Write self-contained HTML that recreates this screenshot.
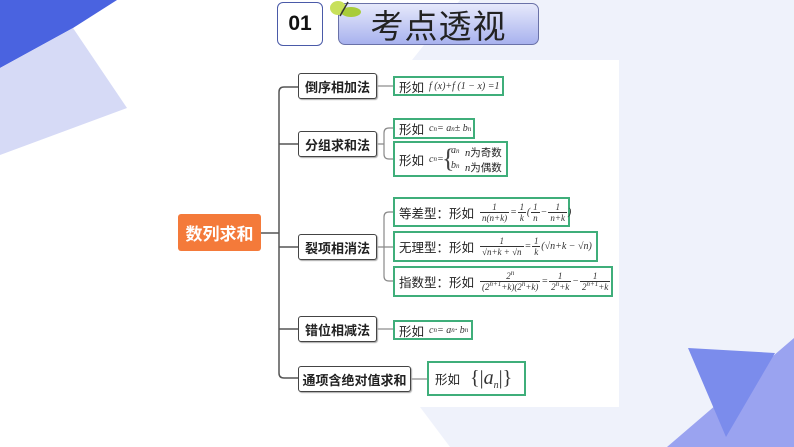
<!DOCTYPE html>
<html><head><meta charset="utf-8">
<style>
*{margin:0;padding:0;box-sizing:border-box}
body{width:794px;height:447px;position:relative;overflow:hidden;background:#fff;font-family:"Liberation Sans","Noto Sans CJK SC",sans-serif}
.abs{position:absolute}
.l1{position:absolute;left:298px;width:79px;height:26px;border:1.5px solid #444;border-radius:3px;background:#fff;font-weight:bold;font-size:13px;color:#222;display:flex;align-items:center;justify-content:center;box-shadow:1px 1px 1px #aaa}
.lf{position:absolute;left:393px;border:2px solid #3fae7a;background:#fff;font-size:12.5px;color:#222;display:flex;align-items:center;padding-left:4px;white-space:nowrap}
.m{font-family:"Liberation Serif",serif;font-style:italic;font-size:10px;margin-left:5px;display:inline-flex;align-items:center;color:#333;white-space:nowrap}
sub{font-size:7px;vertical-align:-2px;line-height:0}
sup{font-size:7px;vertical-align:4px;line-height:0}
.fr{display:inline-flex;flex-direction:column;align-items:center;font-size:9px;line-height:10px;margin:0 1px}
.fr span:last-child{border-top:1px solid #333;padding:0 2px}
.b{font-weight:bold}
</style></head><body>
<svg class="abs" style="left:0;top:0" width="794" height="447">
<polygon points="460,0 794,0 794,447 450,447 420,407 412,60" fill="#eff2fb"/>
<polygon points="0,0 117,0 73,28 0,68" fill="#4a63e0"/>
<polygon points="0,68 73,28 127,108 0,155" fill="#d6daf6"/>
<polygon points="667,447 794,338 794,447" fill="#9aa3f0"/>
<polygon points="688,348 775,353 726,437" fill="#7b8cec"/>
<rect x="240" y="60" width="379" height="347" fill="#fff"/>
<g fill="none" stroke="#555" stroke-width="1.5">
<path d="M261,233 H279"/>
<path d="M298,87 H284 Q279,87 279,92 V373 Q279,378 284,378 H298"/>
<path d="M279,144 H298 M279,247 H298 M279,329 H298"/>
</g>
<g fill="none" stroke="#888" stroke-width="1.2">
<path d="M377,86 H393"/>
<path d="M377,144 H384 M393,128 H389 Q384,128 384,133 V154 Q384,159 389,159 H393"/>
<path d="M377,247 H384 M393,212 H389 Q384,212 384,217 V276 Q384,281 389,281 H393 M384,247 H393"/>
<path d="M377,329 H393"/>
<path d="M411,379 H427"/>
</g>
</svg>
<div class="abs" style="left:277px;top:2px;width:46px;height:44px;border:1.5px solid #4a5aa8;border-radius:6px;background:#fff;font-weight:bold;font-size:21px;display:flex;align-items:center;justify-content:center;color:#111">01</div>
<div class="abs" style="left:338px;top:3px;width:201px;height:42px;border:1.5px solid #6a72a8;border-radius:7px;background:linear-gradient(180deg,#e6e9fb,#a8b2ee);font-size:33px;display:flex;align-items:center;justify-content:center;color:#222;letter-spacing:1px">考点透视</div>
<svg class="abs" style="left:322px;top:0" width="40" height="22"><ellipse cx="16" cy="8" rx="8" ry="7" fill="#c8e05a"/><ellipse cx="29" cy="12" rx="10" ry="5" fill="#a8cc3a"/><line x1="18" y1="16" x2="26" y2="2" stroke="#333" stroke-width="1.5"/></svg>
<div class="abs b" style="left:178px;top:214px;width:83px;height:37px;background:#f47a3a;border-radius:3px;color:#fff;font-size:17px;display:flex;align-items:center;justify-content:center">数列求和</div>
<div class="l1" style="top:73px">倒序相加法</div>
<div class="l1" style="top:131px">分组求和法</div>
<div class="l1" style="top:234px">裂项相消法</div>
<div class="l1" style="top:316px">错位相减法</div>
<div class="l1" style="top:366px;width:113px">通项含绝对值求和</div>
<div class="lf" style="top:76px;width:111px;height:20px">形如<span class="m">f (x)+f (1 − x) =1</span></div>
<div class="lf" style="top:118px;width:82px;height:21px">形如<span class="m">c<sub>n</sub> = a<sub>n</sub> ± b<sub>n</sub></span></div>
<div class="lf" style="top:141px;width:115px;height:36px">形如<span class="m">c<sub>n</sub> =</span>
<span class="abs" style="left:47px;top:1px;font-size:26px;font-weight:100;color:#444;font-family:'Liberation Serif',serif;line-height:30px">{</span>
<span class="abs m" style="left:51px;top:2px">a<sub>n</sub></span>
<span class="abs m" style="left:51px;top:17px">b<sub>n</sub></span>
<span class="abs" style="left:70px;top:2px;font-size:10.5px"><i style="font-family:'Liberation Serif',serif">n</i>为奇数</span>
<span class="abs" style="left:70px;top:17px;font-size:10.5px"><i style="font-family:'Liberation Serif',serif">n</i>为偶数</span></div>
<div class="lf" style="top:197px;width:177px;height:30px">等差型：形如<span class="m"><span class="fr"><span>1</span><span>n(n+k)</span></span>=<span class="fr"><span>1</span><span>k</span></span>(<span class="fr"><span>1</span><span>n</span></span>−<span class="fr"><span>1</span><span>n+k</span></span>)</span></div>
<div class="lf" style="top:231px;width:205px;height:31px">无理型：形如<span class="m"><span class="fr"><span>1</span><span>√n+k + √n</span></span>=<span class="fr"><span>1</span><span>k</span></span>(√n+k − √n)</span></div>
<div class="lf" style="top:266px;width:220px;height:31px">指数型：形如<span class="m"><span class="fr"><span>2<sup>n</sup></span><span>(2<sup>n+1</sup>+k)(2<sup>n</sup>+k)</span></span>=<span class="fr"><span>1</span><span>2<sup>n</sup>+k</span></span>−<span class="fr"><span>1</span><span>2<sup>n+1</sup>+k</span></span></span></div>
<div class="lf" style="top:320px;width:80px;height:20px">形如<span class="m">c<sub>n</sub> = a<sub>n</sub> · b<sub>n</sub></span></div>
<div class="lf" style="left:427px;top:361px;width:99px;height:35px;padding-left:6px">形如<span class="m" style="font-size:20px;margin-left:10px;font-style:normal;font-weight:100">{|<i>a<sub style="font-size:10px;vertical-align:-4px">n</sub></i>|}</span></div>
</body></html>
